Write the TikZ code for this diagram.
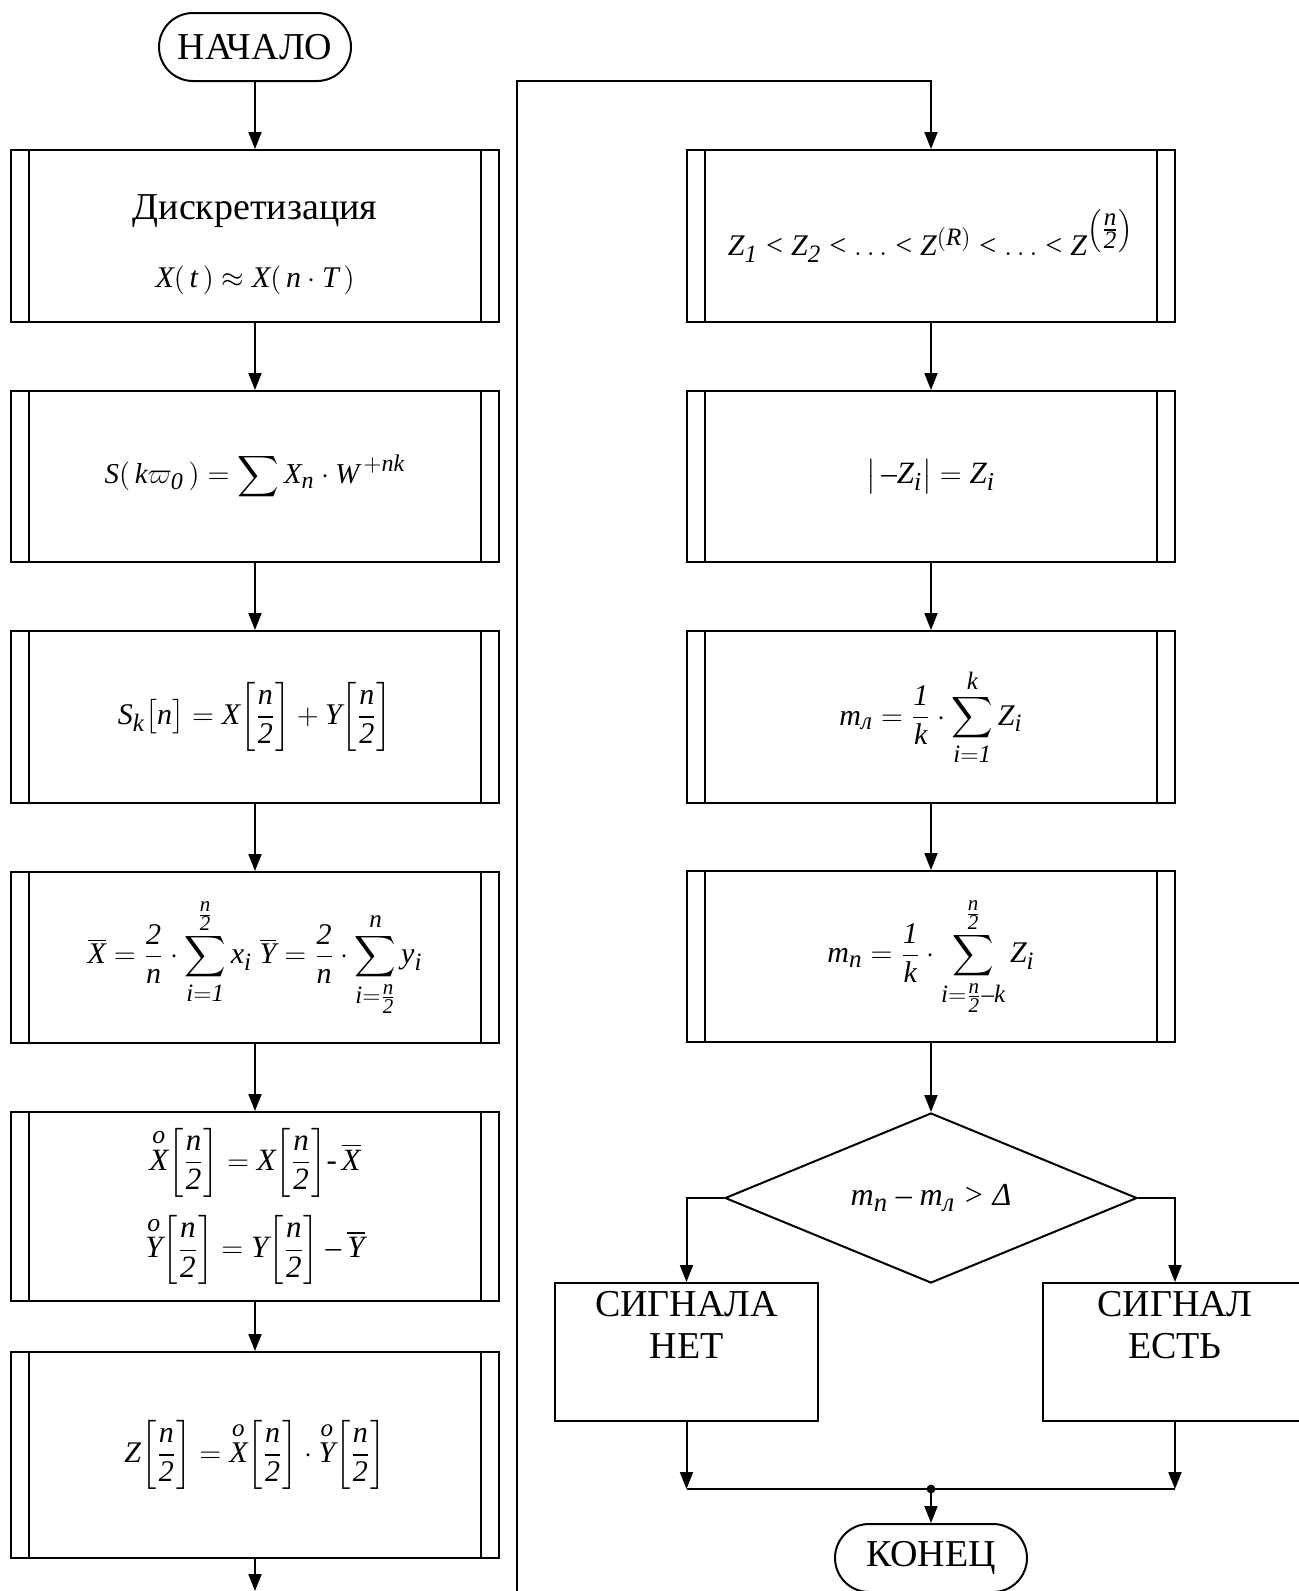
\documentclass[tikz,border=0pt]{standalone}
\usepackage{amsmath}
\usepackage{fontspec}
\setmainfont{Liberation Serif}
\usepackage[italic]{mathastext}
\usetikzlibrary{arrows.meta,shapes.geometric}
\newcommand\fTxt{\fontsize{19}{21}\selectfont}
\newcommand\fMath{\fontsize{15}{21}\selectfont}
\newcommand\itwo{\mathit{2}}
\newcommand\ione{\mathit{1}}
\newcommand\izero{\mathit{0}}
\newcommand\hb[1]{\biggl[\dfrac{#1}{\itwo}\biggr]}
\begin{document}
\begin{tikzpicture}[x=0.5pt,y=-0.5pt,line width=1pt,
  arr/.style={-{Triangle[length=8.5pt,width=6.5pt]}},
  subbox/.style={draw,rectangle,minimum width=244pt,inner sep=0pt,align=center,font=\fMath},
  term/.style={draw,rounded corners=17pt,minimum width=96pt,minimum height=34pt,inner sep=0pt,font=\fTxt},
  outbox/.style={draw,rectangle,minimum height=69pt,inner sep=0pt,align=center,font=\fTxt}]
\useasboundingbox (0,0) rectangle (1299,1591);

% left column
\node[term] (start) at (255,47) {НАЧАЛО};
\node[subbox,minimum height=86pt] (b1) at (255,236)
  {{\fTxt\rule{0pt}{21pt}Дискретизация}\\[13pt] $X(\,t\,)\approx X(\,n\cdot T\,)$};
\node[subbox,minimum height=85.5pt,font=\fontsize{14.4}{21}\selectfont] (b2) at (255,476.5)
  {$S(\,k\varpi_{\izero}\,) = \displaystyle\sum X_{n}\cdot W^{\,+nk}$};
\node[subbox,minimum height=86pt] (b3) at (255,717)
  {$S_{k}\bigl[n\bigr] = X\hb{n} + Y\hb{n}$};
\node[subbox,minimum height=85.5pt] (b4) at (255,957.5)
  {$\displaystyle \overline{X} = \frac{\itwo}{n}\cdot\sum_{i=\ione}^{\frac{n}{\itwo}} x_{i}\ \overline{Y} = \frac{\itwo}{n}\cdot\sum_{i=\frac{n}{\itwo}}^{n} y_{i}$};
\node[subbox,minimum height=94.5pt,font=\fontsize{15.5}{21}\selectfont] (b5) at (255,1206.5)
  {$\begin{array}{c}
   \overset{o}{X}\hb{n} = X\hb{n}\text{-}\,\overline{X}\\[16.5pt]
   \overset{o}{Y}\hb{n} = Y\hb{n} - \overline{Y}
   \end{array}$};
\node[subbox,minimum height=103pt] (b6) at (255,1455)
  {$Z\hb{n} = \overset{o}{X}\hb{n}\cdot\overset{o}{Y}\hb{n}$};

% right column
\node[subbox,minimum height=86pt] (r1) at (931,236)
  {$Z_{\ione} < Z_{\itwo} < \ldots < Z^{(R)} < \ldots < Z^{\left(\tfrac{n}{\itwo}\right)}$};
\node[subbox,minimum height=85.5pt,font=\fontsize{15.5}{21}\selectfont] (r2) at (931,476.5)
  {$\left|\,-Z_{i}\right| = Z_{i}$};
\node[subbox,minimum height=86pt] (r3) at (931,717)
  {$\displaystyle m_{\textit{л}} = \frac{\ione}{k}\cdot\sum_{i=\ione}^{k} Z_{i}$};
\node[subbox,minimum height=85.5pt] (r4) at (931,956.5)
  {$\displaystyle m_{n} = \frac{\ione}{k}\cdot\sum_{i=\frac{n}{\itwo}-k}^{\frac{n}{\itwo}} Z_{i}$};
\node[draw,diamond,aspect=2.42,minimum width=206pt,minimum height=85pt,inner sep=0pt,font=\fontsize{16}{21}\selectfont] (dia) at (931,1198)
  {$m_{n} - m_{\textit{л}} > \textit{Δ}$};
\node[outbox,minimum width=131.5pt] (no) at (686.5,1352) {СИГНАЛА\\НЕТ\\\strut};
\node[outbox,minimum width=132pt] (yes) at (1175,1352) {СИГНАЛ\\ЕСТЬ\\\strut};
\node[term] (fin) at (931,1558) {КОНЕЦ};

% double side lines of predefined process boxes
\foreach \n in {b1,b2,b3,b4,b5,b6,r1,r2,r3,r4}{
  \draw ([xshift=9.3pt]\n.north west) -- ([xshift=9.3pt]\n.south west);
  \draw ([xshift=-9.3pt]\n.north east) -- ([xshift=-9.3pt]\n.south east);
}

% connectors
\draw[arr] (start) -- (b1);
\draw[arr] (b1) -- (b2);
\draw[arr] (b2) -- (b3);
\draw[arr] (b3) -- (b4);
\draw[arr] (b4) -- (b5);
\draw[arr] (b5) -- (b6);
\coordinate (outL) at (255,1591);
\draw[arr] (b6) -- (outL);
\coordinate (inR) at (517,1595);
\coordinate (topR) at (517,81);
\draw[arr] (inR) -- (topR) -| (r1.north);
\draw[arr] (r1) -- (r2);
\draw[arr] (r2) -- (r3);
\draw[arr] (r3) -- (r4);
\draw[arr] (r4) -- (dia);
\draw[arr] (dia.west) -| (no.north);
\draw[arr] (dia.east) -| (yes.north);
\coordinate (jl) at (686.5,1489);
\coordinate (jr) at (1175,1489);
\coordinate (jm) at (931,1489);
\draw[arr] (no) -- (jl);
\draw[arr] (yes) -- (jr);
\draw (jl) -- (jr);
\fill (jm) circle (2.2pt);
\draw[arr] (jm) -- (fin);
\end{tikzpicture}
\end{document}
